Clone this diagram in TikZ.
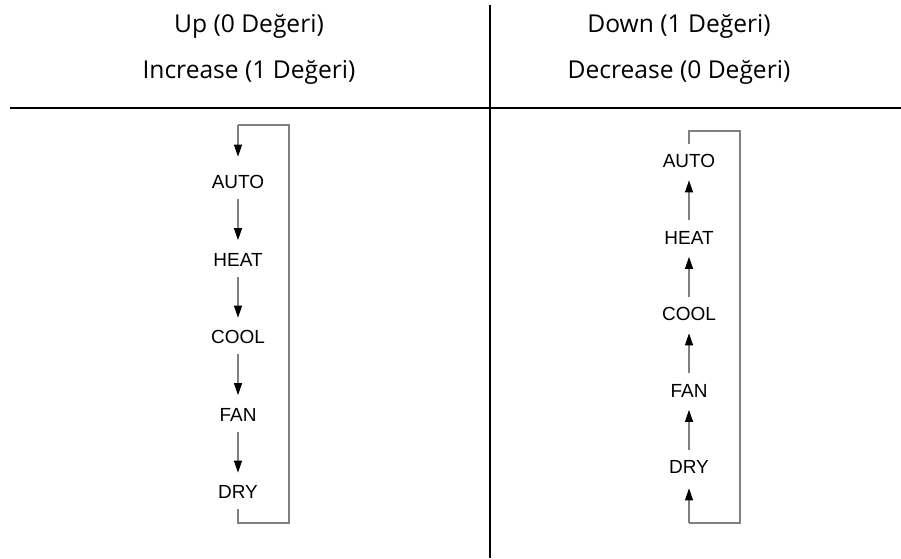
\documentclass[tikz,border=0pt]{standalone}
\usepackage{fontspec}
\setmainfont{Open Sans}
\newfontfamily\diagfont{Liberation Sans}
\usetikzlibrary{arrows.meta, positioning}

\begin{document}
\begin{tikzpicture}[x=0.02cm, y=-0.02cm,
        head/.style={font=\fontsize{14}{16}\selectfont, inner sep=0, anchor=base},
        mode/.style={font=\diagfont\fontsize{10.8}{12}\selectfont, inner sep=0, minimum height=0.68cm},
        flow/.style={draw=gray, line width=0.6pt, shorten >=0.04cm,
            -{Triangle[length=0.24cm, width=0.16cm, color=black]}},
        wrap/.style={draw=gray, line width=0.6pt},
        rule/.style={line width=1.1pt}]
        \useasboundingbox (0,0) rectangle (901,558);

        % Table
        \draw[rule] (490,5) -- (490,558);
        \draw[rule] (10,108) -- (901,108);

        % Headings
        \node[head] (up) at (249,32) {Up (0 Değeri)};
        \node[head] (inc) at (249,78) {Increase (1 Değeri)};
        \node[head] (down) at (679,32) {Down (1 Değeri)};
        \node[head] (dec) at (679,78) {Decrease (0 Değeri)};

        % Left: Up / Increase
        \foreach \name [count=\i from 0] in {AUTO, HEAT, COOL, FAN, DRY}
            \node[mode] (l\i) at (238, 182+77.5*\i) {\name};
        \foreach \i [evaluate=\i as \j using int(\i+1)] in {0,...,3}
            \draw[flow] (l\i.south) -- (l\j.north);
        \coordinate (ltop) at (238,125);
        \draw[wrap] (l4.south) |- (289,523) |- (ltop);
        \draw[flow, shorten >=0.16cm] (ltop) -- (l0.north);

        % Right: Down / Decrease
        \foreach \name [count=\i from 0] in {AUTO, HEAT, COOL, FAN, DRY}
            \node[mode] (r\i) at (689, 161+76.5*\i) {\name};
        \foreach \i [evaluate=\i as \j using int(\i+1)] in {0,...,3}
            \draw[flow] (r\j.north) -- (r\i.south);
        \coordinate (rbot) at (689,523);
        \draw[wrap] (r0.north) |- (740,131) |- (rbot);
        \draw[flow, shorten >=0.08cm] (rbot) -- (r4.south);
\end{tikzpicture}
\end{document}
